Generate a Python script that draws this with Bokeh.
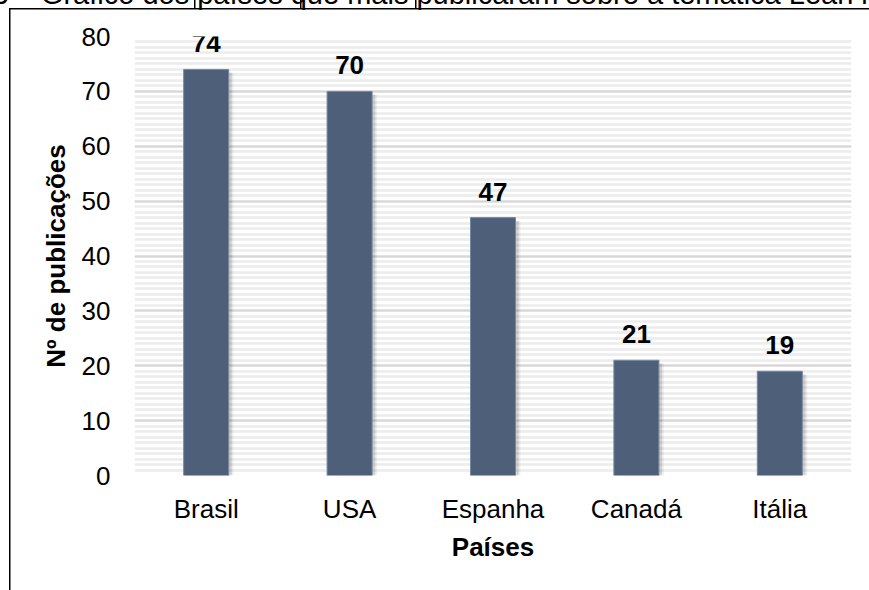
from bokeh.plotting import figure
from bokeh.models import (FactorRange, Range1d, ColumnDataSource, Label,
                          SingleIntervalTicker)
from bokeh.transform import dodge
from bokeh.core.properties import value
from bokeh.embed import file_html
from bokeh.resources import INLINE

# ---- data ----
countries = ["Brasil", "USA", "Espanha", "Canadá", "Itália"]
publications = [74, 70, 47, 21, 19]
y_ticks = [0, 10, 20, 30, 40, 50, 60, 70, 80]
caption_text = "3 – Gráfico dos países que mais publicaram sobre a temática Lean i"
x_title = "Países"
y_title = "Nº de publicações"

# ---- layout ----
W, H = 869, 590
FL, FR, FT, FB = 134, 851, 36, 475
FONT = "Liberation Sans"

src = ColumnDataSource(dict(
    c=countries,
    v=publications,
    vs=[v - 0.6 for v in publications],
    lbl=[str(v) for v in publications],
))

# page border lines (drawn on the plot host behind a transparent border area)
page_css = {
    "background-color": "white",
    "background-image": ", ".join(["linear-gradient(#000, #000)"] * 5),
    "background-size": "1.5px 700px, 1000px 1.5px, 1.5px 8px, 1.5px 8px, 1.5px 8px",
    "background-position": "9px 8px, 9px 8px, 194px 0px, 300px 0px, 415px 0px",
    "background-repeat": "no-repeat",
}

p = figure(width=W, height=H,
           x_range=FactorRange(*countries),
           y_range=Range1d(y_ticks[0], y_ticks[-1]),
           output_backend="svg", toolbar_location=None,
           min_border_left=FL, min_border_right=W - FR,
           min_border_top=FT, min_border_bottom=H - FB,
           styles=page_css)
p.outline_line_color = None
p.background_fill_color = "white"
p.border_fill_color = None

# grid with striped background
p.xgrid.grid_line_color = None
p.yaxis.ticker = SingleIntervalTicker(interval=10, num_minor_ticks=10)
p.ygrid.grid_line_color = "#D6D6D6"
p.ygrid.grid_line_width = 2
p.ygrid.minor_grid_line_color = "#ECECEC"
p.ygrid.minor_grid_line_width = 2.5

# bar shadows
p.vbar(x=dodge("c", 0.035, range=p.x_range), top="vs", width=0.314, bottom=-0.5,
       source=src, fill_color="black", fill_alpha=0.06, line_color=None)
p.vbar(x=dodge("c", 0.022, range=p.x_range), top="vs", width=0.314, bottom=-0.3,
       source=src, fill_color="black", fill_alpha=0.12, line_color=None)
# bars
p.vbar(x="c", top="v", width=0.314, source=src,
       fill_color="#4E5F79", line_color="#7887A0", line_width=1)

# value labels
p.text(x="c", y="v", text="lbl", source=src, y_offset=-26,
       text_align="center", text_baseline="alphabetic",
       text_font=value(FONT), text_font_style="bold",
       text_font_size="26px", text_color="black")

# axes
for ax in (p.xaxis[0], p.yaxis[0]):
    ax.axis_line_color = None
    ax.major_tick_line_color = None
    ax.minor_tick_line_color = None
    ax.major_tick_out = 0
    ax.minor_tick_out = 0
    ax.major_label_text_font = FONT
    ax.major_label_text_font_size = "26px"
    ax.major_label_text_color = "black"
    ax.axis_label_text_font = FONT
    ax.axis_label_text_font_size = "26px"
    ax.axis_label_text_font_style = "bold"
    ax.axis_label_text_color = "black"

p.xaxis.axis_label = x_title
p.yaxis.axis_label = y_title
p.yaxis.major_label_standoff = 24
p.yaxis.axis_label_standoff = 8
p.xaxis.major_label_standoff = 18
p.xaxis.axis_label_standoff = 5

# caption of the page, cut off by the top edge (placed in the top panel)
p.add_layout(Label(x=-8 - FL, y=42.5, x_units="screen", y_units="screen",
                   text=caption_text, text_font=FONT, text_font_size="29px",
                   text_color="black", text_baseline="alphabetic"), "above")

open("out.html", "w").write(file_html(p, INLINE))
